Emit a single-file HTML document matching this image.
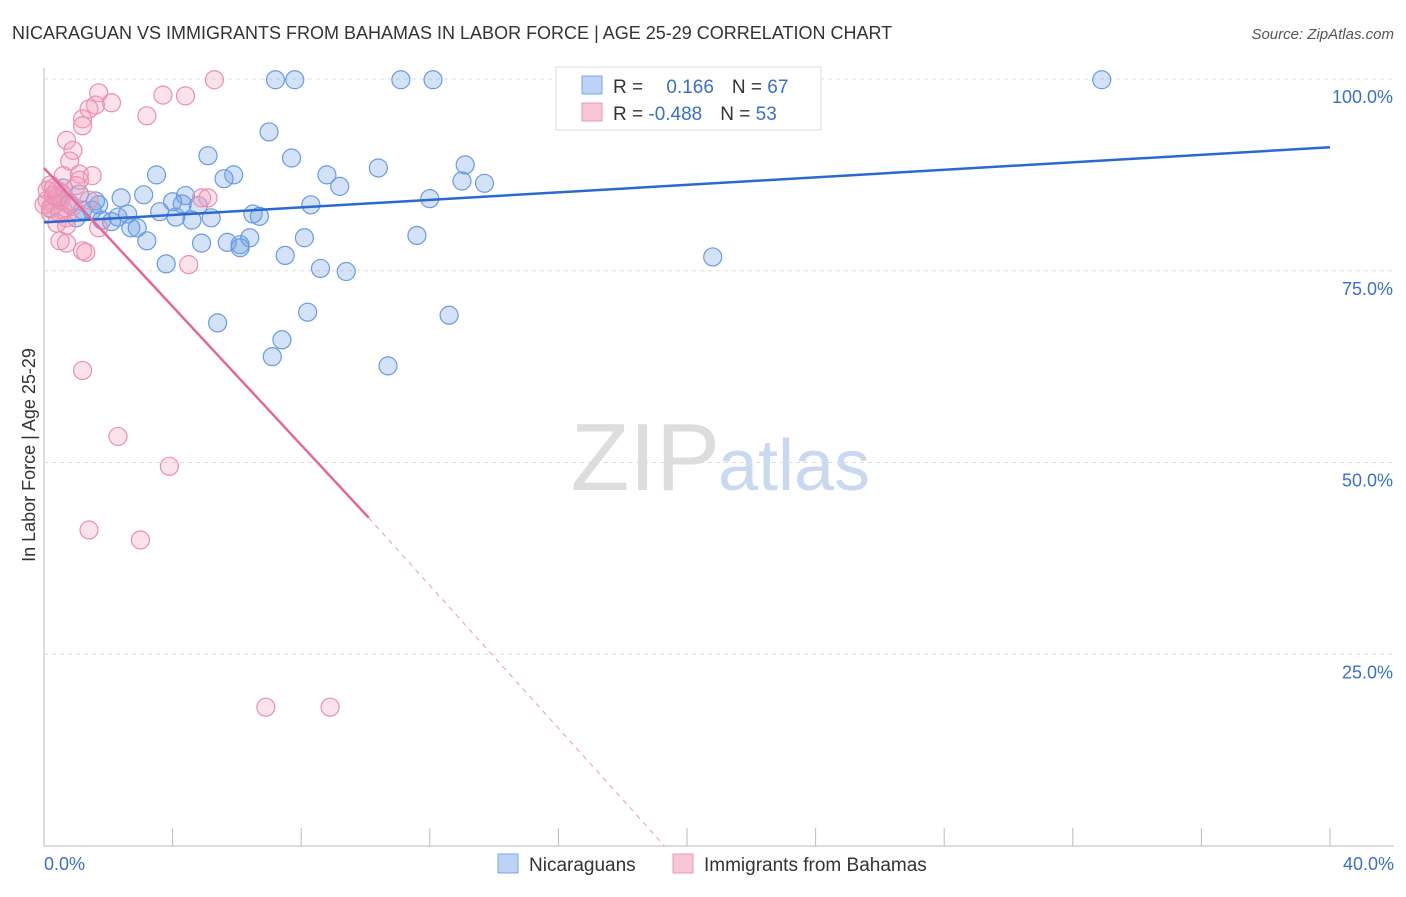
<!DOCTYPE html>
<html><head><meta charset="utf-8"><style>
body{margin:0;background:#fff;font-family:"Liberation Sans",sans-serif;}
svg text{font-family:"Liberation Sans",sans-serif;}
</style></head><body>
<svg width="1406" height="892" id="c">
<text x="12" y="39" font-size="18" fill="#333">NICARAGUAN VS IMMIGRANTS FROM BAHAMAS IN LABOR FORCE | AGE 25-29 CORRELATION CHART</text>
<text x="1394" y="39" font-size="15" fill="#555" font-style="italic" text-anchor="end">Source: ZipAtlas.com</text>
<text x="35" y="455" font-size="18" fill="#333" text-anchor="middle" transform="rotate(-90 35 455)">In Labor Force | Age 25-29</text>
<text x="720" y="490" font-size="96" fill="#ddd" text-anchor="end" font-family="Liberation Serif">ZIP</text>
<text x="718" y="490" font-size="72" fill="#c9d9f0">atlas</text>
<g id="grid"></g><g id="pts"></g><g id="lines"></g>
<g>
<rect x="556" y="67" width="265" height="63" fill="#fff" stroke="#ddd"/>
<rect x="582" y="76" width="20" height="18" fill="#bcd3f5" stroke="#7aa6e3"/>
<rect x="582" y="103" width="20" height="18" fill="#f9c6d6" stroke="#ea9ab5"/>
<text x="613" y="93" font-size="19" fill="#333">R = <tspan fill="#3a6fcc" dx="18">0.166</tspan><tspan fill="#333" dx="18">N = </tspan><tspan fill="#3a6fcc">67</tspan></text>
<text x="613" y="120" font-size="19" fill="#333">R = <tspan fill="#3a6fcc">-0.488</tspan><tspan fill="#333" dx="18">N = </tspan><tspan fill="#3a6fcc">53</tspan></text>
</g>
<g>
<rect x="498" y="854" width="20" height="19" fill="#bcd3f5" stroke="#7aa6e3"/>
<text x="529" y="871" font-size="19" fill="#333">Nicaraguans</text>
<rect x="673" y="854" width="20" height="19" fill="#f9c6d6" stroke="#ea9ab5"/>
<text x="704" y="871" font-size="19" fill="#333">Immigrants from Bahamas</text>
</g>
</svg>
<script>
const xTicks=[0,4,8,12,16,20,24,28,32,36,40];
const yTicks=[25,50,75,100];
const bluePts=[[7.2,99.9],[7.8,99.9],[11.1,99.9],[12.1,99.9],[32.9,99.9],[7.0,93.1],[5.1,90.0],[7.7,89.7],[3.5,87.5],[5.9,87.5],[5.6,87.0],[8.8,87.5],[10.4,88.4],[13.1,88.8],[13.0,86.7],[13.7,86.4],[9.2,86.0],[3.1,84.9],[2.4,84.5],[4.4,84.8],[12.0,84.4],[1.6,84.1],[4.0,84.0],[4.3,83.7],[4.8,83.5],[8.3,83.6],[1.5,82.9],[2.6,82.4],[3.6,82.7],[5.2,81.9],[6.5,82.4],[6.7,82.1],[1.0,81.9],[2.3,82.0],[1.8,81.6],[4.1,82.0],[4.6,81.6],[2.1,81.4],[2.7,80.6],[2.9,80.6],[3.2,78.9],[4.9,78.6],[5.7,78.7],[6.1,78.4],[6.1,78.0],[6.4,79.3],[8.1,79.3],[11.6,79.6],[7.5,77.0],[3.8,75.9],[8.6,75.3],[9.4,74.9],[20.8,76.8],[5.4,68.2],[8.2,69.6],[12.6,69.2],[7.4,66.0],[7.1,63.8],[10.7,62.6],[0.5,84.2],[0.8,83.6],[0.3,84.8],[1.2,82.9],[0.6,85.8],[0.2,83.1],[1.1,85.0],[1.7,83.6]];
const pinkPts=[[5.3,99.9],[1.7,98.2],[3.7,97.9],[4.4,97.8],[1.6,96.6],[2.1,96.9],[1.4,96.1],[3.2,95.2],[1.2,94.8],[1.2,93.9],[0.7,92.0],[0.9,90.7],[0.8,89.3],[1.1,87.6],[1.5,87.4],[0.6,87.4],[0.2,86.2],[1.0,86.1],[0.4,85.5],[0.6,84.9],[0.1,84.2],[0.3,83.6],[0.6,82.9],[0.2,83.2],[1.4,84.2],[4.9,84.5],[5.1,84.5],[0.7,81.9],[1.7,80.6],[0.5,78.9],[0.7,78.6],[1.2,77.6],[1.3,77.4],[4.5,75.8],[1.2,62.0],[2.3,53.4],[3.9,49.5],[1.4,41.2],[3.0,39.9],[6.9,18.1],[8.9,18.1],[0.1,85.5],[0.3,84.9],[0.4,84.5],[0.8,83.8],[0.0,83.6],[0.2,82.5],[0.5,82.4],[0.9,83.4],[1.1,86.8],[0.7,80.9],[0.4,81.2],[0.3,85.8]];
const blueTrend=[[0,81.3],[40,91.1]];
const pinkTrend=[[0,88.4],[10.1,42.8],[19.3,0]];
const X=v=>44+v*32.15, Y=v=>846-v*7.67;
const ns="http://www.w3.org/2000/svg";
function mk(t,a,p){const e=document.createElementNS(ns,t);for(const k in a)e.setAttribute(k,a[k]);p.appendChild(e);return e;}
const g=document.getElementById('grid'),P=document.getElementById('pts'),L=document.getElementById('lines');
mk('line',{x1:44,y1:68,x2:44,y2:846,stroke:'#bbb'},g);
mk('line',{x1:44,y1:846,x2:1394,y2:846,stroke:'#bbb'},g);
yTicks.forEach(t=>{const l=mk('line',{x1:44,x2:1394,y1:Y(t),y2:Y(t),stroke:'#ddd','stroke-dasharray':'4 4'},g);

const tx=mk('text',{x:1393,y:Y(t)+24,'font-size':18,fill:'#3a6fcc','text-anchor':'end'},g);tx.textContent=t.toFixed(1)+'%';
});
xTicks.forEach(t=>{const l=mk('line',{x1:X(t),x2:X(t),y1:828,y2:846,stroke:'#bbb'},g);
});
[[0,'0.0%','start',44],[40,'40.0%','end',1394]].forEach(d=>{const tx=mk('text',{x:d[3],y:870,'font-size':18,fill:'#3a6fcc','text-anchor':d[2]},g);tx.textContent=d[1];
});
bluePts.forEach(p=>{const c=mk('circle',{cx:X(p[0]),cy:Y(p[1]),r:9,fill:'rgba(110,160,230,0.3)',stroke:'#6a9be0','stroke-width':1.2},P);
});
pinkPts.forEach(p=>{const c=mk('circle',{cx:X(p[0]),cy:Y(p[1]),r:9,fill:'rgba(245,160,190,0.3)',stroke:'#eb8fae','stroke-width':1.2},P);
});
let l=mk('line',{x1:X(blueTrend[0][0]),y1:Y(blueTrend[0][1]),x2:X(blueTrend[1][0]),y2:Y(blueTrend[1][1]),stroke:'#2a6ad0','stroke-width':2.5},L);

l=mk('line',{x1:X(pinkTrend[0][0]),y1:Y(pinkTrend[0][1]),x2:X(pinkTrend[1][0]),y2:Y(pinkTrend[1][1]),stroke:'#e5689a','stroke-width':2.5},L);

l=mk('line',{x1:X(pinkTrend[1][0]),y1:Y(pinkTrend[1][1]),x2:X(pinkTrend[2][0]),y2:Y(pinkTrend[2][1]),stroke:'#e89ab5','stroke-width':1,'stroke-dasharray':'5 5'},L);

</script>
</body></html>
